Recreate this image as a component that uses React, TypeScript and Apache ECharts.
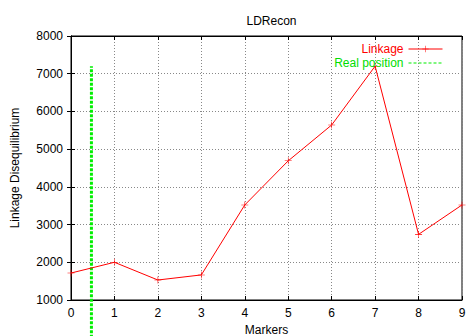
import React, { useEffect, useRef } from "react";
import * as echarts from "echarts";

const markers = [0, 1, 2, 3, 4, 5, 6, 7, 8, 9];
const linkage = [1715, 2000, 1530, 1665, 3520, 4690, 5640, 7200, 2740, 3520];
const realPositionX = 0.47;
const realPositionY = [0, 7200];

const FONT = "'Liberation Sans', Arial, Helvetica, sans-serif";
const PLUS = "path://M0,4.6H10V5.4H0Z M4.6,0H5.4V10H4.6Z";

function dashIcon(w: number, h: number): string {
  let d = `M0,0h0.01v0.01h-0.01Z M${w - 0.01},${h - 0.01}h0.01v0.01h-0.01Z`;
  for (let x = 0; x + 3 <= w; x += 5) {
    d += ` M${x},${h / 2 - 0.5}h3v1h-3Z`;
  }
  return "path://" + d;
}

export default function App() {
  const ref = useRef<HTMLDivElement>(null);
  useEffect(() => {
    if (!ref.current) return;
    const chart = echarts.init(ref.current, undefined, { renderer: "svg" });
    const left = 71, right = 5, top = 36, bottom = 36;
    chart.setOption({
      animation: false,
      backgroundColor: "#fff",
      textStyle: { fontFamily: FONT },
      title: {
        text: "LDRecon",
        left: left + (467 - left - right) / 2,
        textAlign: "center",
        top: 10,
        textStyle: { fontSize: 12, fontWeight: "normal", color: "#000", fontFamily: FONT },
      },
      legend: {
        orient: "vertical",
        right: 19,
        top: 38,
        align: "right",
        itemWidth: 34,
        itemHeight: 8,
        itemGap: 2,
        textStyle: { fontSize: 12, fontFamily: FONT, lineHeight: 12 },
        data: [
          {
            name: "Linkage",
            textStyle: { color: "#ff0000" },
            lineStyle: { width: 1, color: "#ff0000" },
          },
          {
            name: "Real position",
            icon: dashIcon(34, 8),
            itemStyle: { color: "#00ee00" },
            textStyle: { color: "#00dd00" },
          },
        ],
      },
      grid: {
        left, right, top, bottom,
        show: true,
        borderColor: "#000",
        borderWidth: 1,
        outerBoundsMode: "none",
        containLabel: false,
      },
      xAxis: [
        {
          type: "value",
          min: 0,
          max: 9,
          interval: 1,
          name: "Markers",
          nameLocation: "middle",
          nameGap: 24,
          nameTextStyle: { fontSize: 12, color: "#000", fontFamily: FONT },
          axisLine: { show: true, lineStyle: { color: "#000", width: 1 } },
          axisTick: { show: true, inside: true, length: 4, lineStyle: { color: "#000" } },
          axisLabel: { fontSize: 12, color: "#000", margin: 7, fontFamily: FONT },
          splitLine: { show: true, lineStyle: { color: "#888", type: [1, 2], width: 1 } },
        },
        {
          type: "value",
          position: "top",
          min: 0,
          max: 9,
          interval: 1,
          axisLine: { show: true, lineStyle: { color: "#000" } },
          axisTick: { show: true, inside: true, length: 4, lineStyle: { color: "#000" } },
          axisLabel: { show: false },
          splitLine: { show: false },
        },
      ],
      yAxis: [
        {
          type: "value",
          min: 1000,
          max: 8000,
          interval: 1000,
          name: "Linkage Disequilibrium",
          nameLocation: "middle",
          nameGap: 50,
          nameTextStyle: { fontSize: 12, color: "#000", fontFamily: FONT },
          axisLine: { show: true, lineStyle: { color: "#000", width: 1 } },
          axisTick: { show: true, inside: true, length: 4, lineStyle: { color: "#000" } },
          axisLabel: {
            fontSize: 12,
            color: "#000",
            margin: 8,
            fontFamily: FONT,
            formatter: (v: number) => String(v),
          },
          splitLine: { show: true, lineStyle: { color: "#888", type: [1, 2], width: 1 } },
        },
        {
          type: "value",
          position: "right",
          min: 1000,
          max: 8000,
          interval: 1000,
          axisLine: { show: true, lineStyle: { color: "#000" } },
          axisTick: { show: true, inside: true, length: 4, lineStyle: { color: "#000" } },
          axisLabel: { show: false },
          splitLine: { show: false },
        },
      ],
      series: [
        {
          name: "Linkage",
          type: "line",
          data: markers.map((m, i) => [m, linkage[i]]),
          symbol: PLUS,
          symbolSize: 7,
          showSymbol: true,
          itemStyle: { color: "#ff0000" },
          lineStyle: { color: "#ff0000", width: 1 },
          z: 3,
        },
        {
          name: "Real position",
          type: "line",
          data: realPositionY.map((v) => [realPositionX, v]),
          symbol: "none",
          clip: false,
          itemStyle: { color: "#00ee00" },
          lineStyle: { color: "#00ee00", width: 3, type: [3, 1.5] },
          z: 2,
        },
      ],
    });
    return () => chart.dispose();
  }, []);
  return <div ref={ref} style={{ width: 467, height: 336, position: "absolute", left: 0, top: 0 }} />;
}
